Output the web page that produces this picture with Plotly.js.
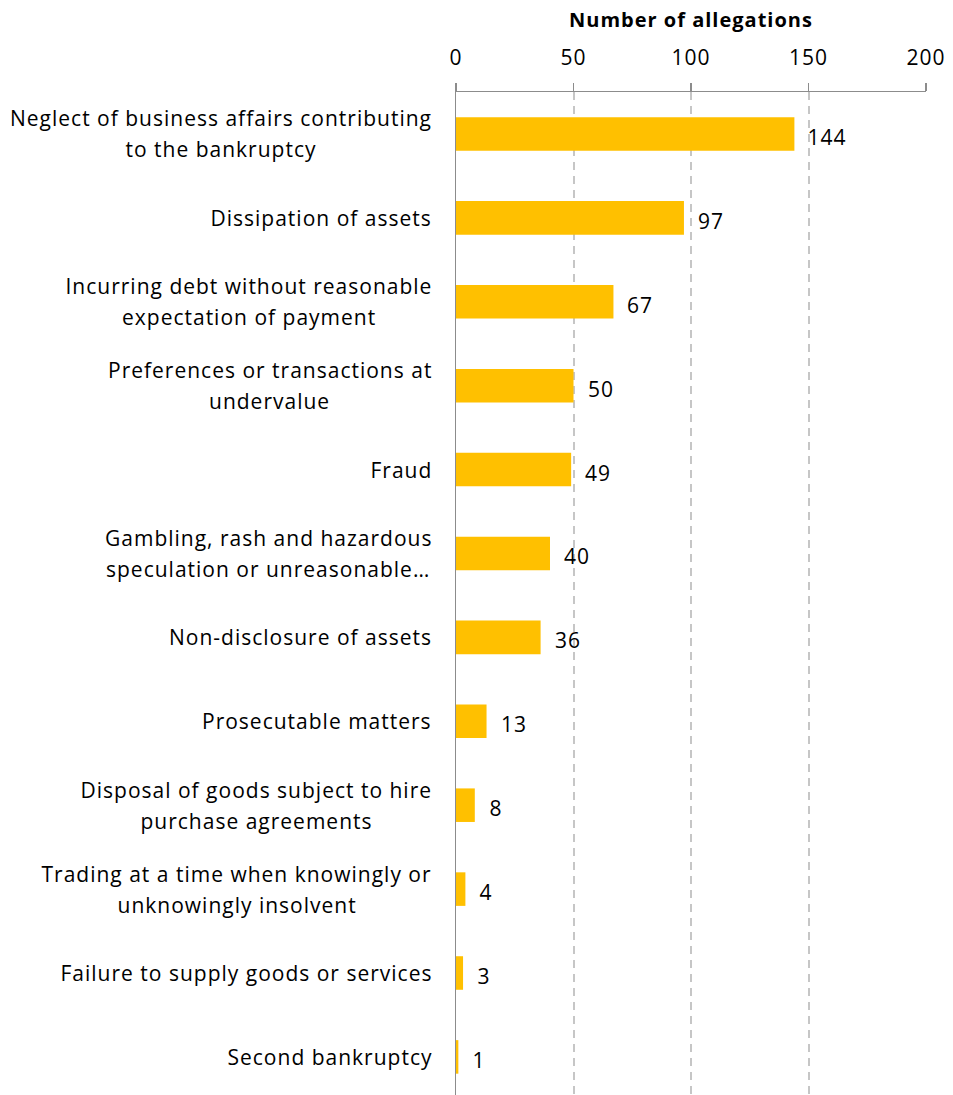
<!DOCTYPE html>
<html>
<head>
<meta charset="utf-8">
<script src="https://cdn.plot.ly/plotly-3.0.1.min.js"></script>
<style>
html,body{margin:0;padding:0;background:#fff;}
#chart{width:953px;height:1095px;}
#chart text{letter-spacing:1px;}
</style>
</head>
<body>
<div id="chart"></div>
<script>
// Data
const categories = [
  "Neglect of business affairs contributing<br>to the bankruptcy",
  "Dissipation of assets",
  "Incurring debt without reasonable<br>expectation of payment",
  "Preferences or transactions at<br>undervalue",
  "Fraud",
  "Gambling, rash and hazardous<br>speculation or unreasonable…",
  "Non-disclosure of assets",
  "Prosecutable matters",
  "Disposal of goods subject to hire<br>purchase agreements",
  "Trading at a time when knowingly or<br>unknowingly insolvent",
  "Failure to supply goods or services",
  "Second bankruptcy"
];
const values = [144, 97, 67, 50, 49, 40, 36, 13, 8, 4, 3, 1];
const tickValues = [0, 50, 100, 150, 200];
const axisTitle = "Number of allegations";

const FONT = "'Open Sans', sans-serif";
const FS = 21;
const LS = 1.0;
const textColor = "#000000";

// measure text widths for centered label blocks
const cv = document.createElement("canvas").getContext("2d");
cv.font = FS + "px 'Open Sans'";
try { cv.letterSpacing = LS + "px"; } catch(e) {}
function w(s){ return cv.measureText(s).width; }

const annotations = [];
const LABEL_GAP = 24; // px from plot left edge to label right edge
const LINE_H = 31;
categories.forEach(function(cat){
  const lines = cat.split("<br>");
  const maxW = Math.max.apply(null, lines.map(w));
  lines.forEach(function(line, i){
    const ys = lines.length === 1 ? 0 : (i === 0 ? LINE_H/2 : -LINE_H/2);
    annotations.push({xref:"paper", yref:"y", x:0, y:cat, text:line, showarrow:false,
      xanchor:"center", yanchor:"middle", xshift:-(LABEL_GAP + maxW/2),
      yshift:ys, font:{family:FONT,size:FS,color:textColor}});
  });
});
values.forEach(function(v, i){
  annotations.push({xref:"x", yref:"y", x:v, y:categories[i], text:String(v), showarrow:false,
    xanchor:"left", yanchor:"middle", xshift:13, yshift:-3, font:{family:FONT,size:FS,color:textColor}});
});

const trace = {
  type:"bar", orientation:"h", x:values, y:categories,
  marker:{color:"#FFC000", line:{width:0}}, width:0.4, hoverinfo:"none"
};

const nCat = categories.length;
const layout = {
  width:953, height:1095,
  margin:{l:456, r:27, t:92, b:0, pad:0},
  paper_bgcolor:"#fff", plot_bgcolor:"#fff",
  showlegend:false,
  font:{family:FONT, size:FS, color:textColor},
  title:{text:"<b>" + axisTitle + "</b>", font:{family:FONT, size:20, color:textColor},
    xref:"paper", x:0.5, xanchor:"center", yref:"container", y:1 - 20/1095, yanchor:"middle"},
  xaxis:{
    side:"top", range:[0,200], tickvals:tickValues, ticktext:tickValues.map(String),
    showgrid:true, gridcolor:"#C6C6C6", griddash:"8px,6px", gridwidth:2,
    showline:true, linecolor:"#8C8C8C", linewidth:1.5,
    ticks:"outside", ticklen:8, tickcolor:"#8C8C8C", tickwidth:1.5,
    ticklabelstandoff:9,
    zeroline:false, tickfont:{family:FONT, size:FS, color:textColor},
    fixedrange:true
  },
  yaxis:{
    type:"category", categoryorder:"array", categoryarray:categories,
    range:[nCat - 0.5 - 0.046, -0.5],
    showticklabels:false, ticks:"", showgrid:false, zeroline:false,
    showline:true, linecolor:"#8C8C8C", linewidth:1.5, fixedrange:true
  },
  annotations:annotations
};

Plotly.newPlot("chart", [trace], layout, {displayModeBar:false, staticPlot:true});
</script>
</body>
</html>
